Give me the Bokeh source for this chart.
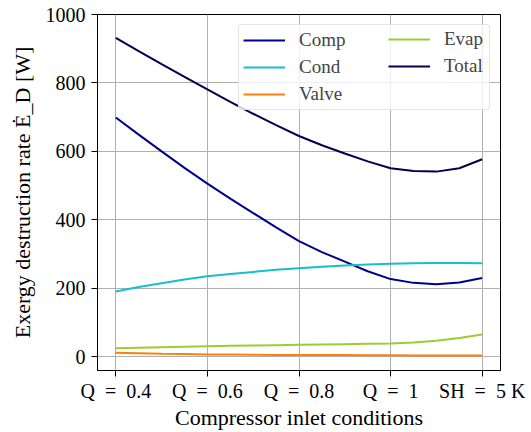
from bokeh.plotting import figure
from bokeh.models import Range1d, FixedTicker, Legend, LegendItem
from bokeh.embed import file_html
from bokeh.resources import INLINE

# x positions (index of compressor inlet condition)
x = [0, 0.25, 0.5, 0.75, 1, 1.25, 1.5, 1.75, 2, 2.25, 2.5, 2.75, 3, 3.25, 3.5, 3.75, 4]
tick_labels = ["Q\u2002=\u20020.4", "Q\u2002=\u20020.6", "Q\u2002=\u20020.8", "Q\u2002=\u20021", "SH\u2002=\u20025 K"]

comp = [699, 649, 600, 552, 506, 462, 420, 378, 338, 306, 278, 250, 227, 216, 212, 217, 230]
cond = [191, 204, 215, 226, 235, 242, 248, 254, 259, 263, 267, 270, 272, 273, 274, 274, 273]
valve = [12, 10.5, 9, 8, 7, 6.5, 6, 5.5, 5, 5, 5, 4.5, 4.5, 4, 4, 4, 4]
evap = [25, 26.5, 28, 29.5, 31, 32, 33, 34, 35, 36, 37, 38, 39, 42, 47, 55, 65]
total = [932, 893, 855, 818, 781, 745, 710, 677, 645, 618, 594, 571, 551, 543, 541, 551, 577]

FONT = "Liberation Serif"

p = figure(width=531, height=432, output_backend="svg", toolbar_location=None,
           x_range=Range1d(-0.2, 4.2), y_range=Range1d(-40, 1000),
           min_border_left=97, min_border_right=31, min_border_top=14, min_border_bottom=62)
p.frame_width = 403
p.frame_height = 356

r_comp = p.line(x, comp, line_color="#00008b", line_width=2)
r_cond = p.line(x, cond, line_color="#17becf", line_width=2)
r_valve = p.line(x, valve, line_color="#ff7f0e", line_width=2)
r_evap = p.line(x, evap, line_color="#9acd32", line_width=2)
r_total = p.line(x, total, line_color="#000050", line_width=2)

p.xaxis.ticker = FixedTicker(ticks=[0, 1, 2, 3, 4])
p.xaxis.major_label_overrides = {i: t for i, t in enumerate(tick_labels)}
p.yaxis.ticker = FixedTicker(ticks=[0, 200, 400, 600, 800, 1000])

for ax in (p.xaxis[0], p.yaxis[0]):
    ax.major_label_text_font = FONT
    ax.major_label_text_font_size = "20px"
    ax.major_label_text_color = "black"
    ax.axis_label_text_font = FONT
    ax.axis_label_text_font_size = "22px"
    ax.axis_label_text_font_style = "normal"
    ax.axis_label_text_color = "black"
    ax.major_tick_in = 0
    ax.major_tick_out = 6
    ax.minor_tick_line_color = None
    ax.axis_line_color = "black"
    ax.major_tick_line_color = "black"

p.xaxis.axis_label = "Compressor inlet conditions"
p.yaxis.axis_label = "Exergy destruction rate Ė_D [W]"
p.xaxis.major_label_standoff = 3
p.yaxis.major_label_standoff = 6
p.xaxis.axis_label_standoff = 0
p.yaxis.axis_label_standoff = 8

p.grid.grid_line_color = "#b0b0b0"
p.grid.grid_line_width = 1
p.outline_line_color = "black"
p.outline_line_width = 1

def style_legend(lg):
    lg.label_text_font = FONT
    lg.label_text_font_size = "19px"
    lg.glyph_width = 42
    lg.glyph_height = 20
    lg.label_standoff = 14
    lg.spacing = 5
    lg.padding = 4
    lg.margin = 10
    lg.location = "top_right"

legend1 = Legend(items=[
    LegendItem(label="Comp", renderers=[r_comp]),
    LegendItem(label="Cond", renderers=[r_cond]),
    LegendItem(label="Valve", renderers=[r_valve]),
])
style_legend(legend1)
legend1.label_width = 186
legend1.border_line_color = "#cccccc"
legend1.border_radius = 4
legend1.background_fill_alpha = 0.8

legend2 = Legend(items=[
    LegendItem(label="Evap", renderers=[r_evap]),
    LegendItem(label="Total", renderers=[r_total]),
])
style_legend(legend2)
legend2.label_width = 42
legend2.border_line_color = "#cccccc"
legend2.border_line_alpha = 0
legend2.background_fill_alpha = 0

p.add_layout(legend1)
p.add_layout(legend2)

open("out.html", "w").write(file_html(p, INLINE))
